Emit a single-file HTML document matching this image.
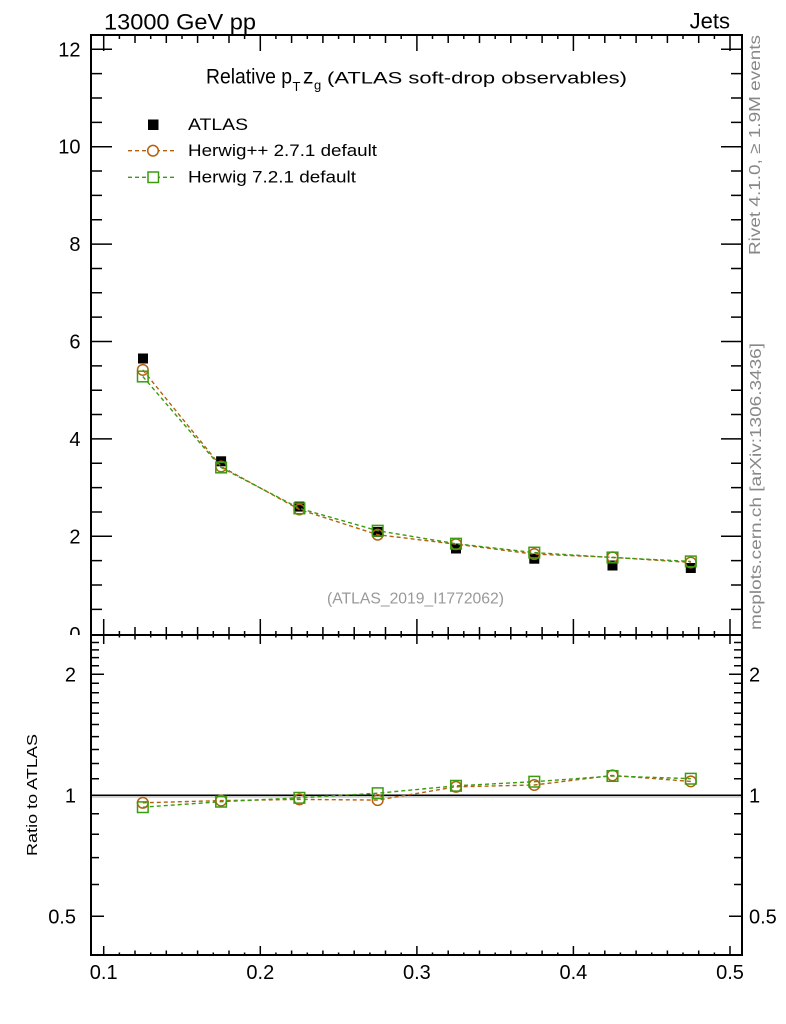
<!DOCTYPE html>
<html><head><meta charset="utf-8"><style>
html,body{margin:0;padding:0;background:#fff;}
svg{display:block;}
text{font-family:"Liberation Sans",Arial,sans-serif;}
</style></head><body>
<svg width="786" height="1024" viewBox="0 0 786 1024" xmlns="http://www.w3.org/2000/svg">
<rect x="0" y="0" width="786" height="1024" fill="#fff"/>
<defs>
<clipPath id="cm"><rect x="91" y="35" width="651" height="600"/></clipPath>
<clipPath id="cr"><rect x="91" y="635" width="651" height="320"/></clipPath>
<clipPath id="cl"><rect x="0" y="0" width="91" height="635"/></clipPath>
</defs>

<!-- header texts -->
<text x="104" y="29.3" font-size="22" textLength="152" lengthAdjust="spacingAndGlyphs">13000 GeV pp</text>
<text x="730" y="28.5" font-size="22" text-anchor="end">Jets</text>

<!-- right side grey texts -->
<text transform="translate(760,255) rotate(-90)" font-size="16" fill="#888" textLength="220" lengthAdjust="spacingAndGlyphs">Rivet 4.1.0, ≥ 1.9M events</text>
<text transform="translate(761,630) rotate(-90)" font-size="16" fill="#888" textLength="287" lengthAdjust="spacingAndGlyphs">mcplots.cern.ch [arXiv:1306.3436]</text>

<!-- title -->
<text x="206" y="83.5" font-size="21" textLength="86" lengthAdjust="spacingAndGlyphs">Relative p</text>
<text x="292.5" y="91" font-size="13">T</text>
<text x="303" y="83.5" font-size="21">z</text>
<text x="314" y="89.5" font-size="13">g</text>
<text x="327" y="83.3" font-size="17" textLength="300" lengthAdjust="spacingAndGlyphs">(ATLAS soft-drop observables)</text>

<!-- legend -->
<rect x="148" y="119.5" width="10.5" height="10.5" fill="#000"/>
<text x="188" y="130" font-size="17" textLength="60" lengthAdjust="spacingAndGlyphs">ATLAS</text>
<line x1="128" y1="150.7" x2="176" y2="150.7" stroke="#b5600f" stroke-width="1.4" stroke-dasharray="4,3"/>
<circle cx="153" cy="150.7" r="5.3" fill="#fff" stroke="#b5600f" stroke-width="1.5"/>
<text x="188" y="156" font-size="17" textLength="189" lengthAdjust="spacingAndGlyphs">Herwig++ 2.7.1 default</text>
<line x1="128" y1="177.3" x2="176" y2="177.3" stroke="#3a9b10" stroke-width="1.4" stroke-dasharray="4,3"/>
<rect x="148" y="172" width="10.5" height="10.5" fill="#fff" stroke="#3a9b10" stroke-width="1.5"/>
<text x="188" y="182.5" font-size="17" textLength="168" lengthAdjust="spacingAndGlyphs">Herwig 7.2.1 default</text>

<!-- analysis id -->
<text x="327" y="603.3" font-size="16" fill="#999" textLength="177" lengthAdjust="spacingAndGlyphs">(ATLAS_2019_I1772062)</text>

<!-- main y labels -->
<g font-size="20" text-anchor="end" clip-path="url(#cl)">
<text x="80.5" y="56.3">12</text>
<text x="80.5" y="153.7">10</text>
<text x="80.5" y="251.1">8</text>
<text x="80.5" y="348.5">6</text>
<text x="80.5" y="445.9">4</text>
<text x="80.5" y="543.3">2</text>
<text x="80.5" y="641">0</text>
</g>

<!-- ratio y labels -->
<g font-size="20">
<text x="76" y="681.3" text-anchor="end">2</text>
<text x="76" y="802.3" text-anchor="end">1</text>
<text x="76" y="923.3" text-anchor="end">0.5</text>
<text x="749" y="681.3">2</text>
<text x="749" y="802.3">1</text>
<text x="749" y="923.3">0.5</text>
</g>
<text transform="translate(37,795) rotate(-90)" font-size="15" text-anchor="middle" textLength="122" lengthAdjust="spacingAndGlyphs">Ratio to ATLAS</text>

<!-- x labels -->
<g font-size="20" text-anchor="middle">
<text x="103.7" y="979">0.1</text>
<text x="260.3" y="979">0.2</text>
<text x="416.9" y="979">0.3</text>
<text x="573.4" y="979">0.4</text>
<text x="730" y="979">0.5</text>
</g>

<!-- ticks -->
<g stroke="#000" stroke-width="1.5" fill="none">
<path d="M103.7 635v-16M260.3 635v-16M416.9 635v-16M573.4 635v-16M730 635v-16
M103.7 35v16M260.3 35v16M416.9 35v16M573.4 35v16M730 35v16"/>
<path d="M135 635v-8M166.3 635v-8M197.6 635v-8M229 635v-8M291.6 635v-8M322.9 635v-8M354.2 635v-8M385.5 635v-8M448.2 635v-8M479.5 635v-8M510.8 635v-8M542.1 635v-8M604.8 635v-8M636.1 635v-8M667.4 635v-8M698.7 635v-8
M135 35v8M166.3 35v8M197.6 35v8M229 35v8M291.6 35v8M322.9 35v8M354.2 35v8M385.5 35v8M448.2 35v8M479.5 35v8M510.8 35v8M542.1 35v8M604.8 35v8M636.1 35v8M667.4 35v8M698.7 35v8"/>
<path d="M119.4 635v-4M150.7 635v-4M182 635v-4M213.3 635v-4M244.6 635v-4M275.9 635v-4M307.3 635v-4M338.6 635v-4M369.9 635v-4M401.2 635v-4M432.5 635v-4M463.8 635v-4M495.2 635v-4M526.5 635v-4M557.8 635v-4M589.1 635v-4M620.4 635v-4M651.7 635v-4M683 635v-4M714.4 635v-4
M119.4 35v4M150.7 35v4M182 35v4M213.3 35v4M244.6 35v4M275.9 35v4M307.3 35v4M338.6 35v4M369.9 35v4M401.2 35v4M432.5 35v4M463.8 35v4M495.2 35v4M526.5 35v4M557.8 35v4M589.1 35v4M620.4 35v4M651.7 35v4M683 35v4M714.4 35v4"/>
<path d="M103.7 635v9M260.3 635v9M416.9 635v9M573.4 635v9M730 635v9
M103.7 955v-9M260.3 955v-9M416.9 955v-9M573.4 955v-9M730 955v-9"/>
<path d="M135 635v4.5M166.3 635v4.5M197.6 635v4.5M229 635v4.5M291.6 635v4.5M322.9 635v4.5M354.2 635v4.5M385.5 635v4.5M448.2 635v4.5M479.5 635v4.5M510.8 635v4.5M542.1 635v4.5M604.8 635v4.5M636.1 635v4.5M667.4 635v4.5M698.7 635v4.5
M135 955v-4.5M166.3 955v-4.5M197.6 955v-4.5M229 955v-4.5M291.6 955v-4.5M322.9 955v-4.5M354.2 955v-4.5M385.5 955v-4.5M448.2 955v-4.5M479.5 955v-4.5M510.8 955v-4.5M542.1 955v-4.5M604.8 955v-4.5M636.1 955v-4.5M667.4 955v-4.5M698.7 955v-4.5"/>
<path d="M119.4 635v2.5M150.7 635v2.5M182 635v2.5M213.3 635v2.5M244.6 635v2.5M275.9 635v2.5M307.3 635v2.5M338.6 635v2.5M369.9 635v2.5M401.2 635v2.5M432.5 635v2.5M463.8 635v2.5M495.2 635v2.5M526.5 635v2.5M557.8 635v2.5M589.1 635v2.5M620.4 635v2.5M651.7 635v2.5M683 635v2.5M714.4 635v2.5
M119.4 955v-2.5M150.7 955v-2.5M182 955v-2.5M213.3 955v-2.5M244.6 955v-2.5M275.9 955v-2.5M307.3 955v-2.5M338.6 955v-2.5M369.9 955v-2.5M401.2 955v-2.5M432.5 955v-2.5M463.8 955v-2.5M495.2 955v-2.5M526.5 955v-2.5M557.8 955v-2.5M589.1 955v-2.5M620.4 955v-2.5M651.7 955v-2.5M683 955v-2.5M714.4 955v-2.5"/>
<path d="M91 49.3h21M91 146.7h21M91 244.1h21M91 341.5h21M91 438.9h21M91 536.3h21
M742 49.3h-21M742 146.7h-21M742 244.1h-21M742 341.5h-21M742 438.9h-21M742 536.3h-21"/>
<path d="M91 73.65h11M91 98h11M91 122.35h11M91 171.05h11M91 195.4h11M91 219.75h11M91 268.45h11M91 292.8h11M91 317.15h11M91 365.85h11M91 390.2h11M91 414.55h11M91 463.25h11M91 487.6h11M91 511.95h11M91 560.65h11M91 585h11M91 609.35h11
M742 73.65h-11M742 98h-11M742 122.35h-11M742 171.05h-11M742 195.4h-11M742 219.75h-11M742 268.45h-11M742 292.8h-11M742 317.15h-11M742 365.85h-11M742 390.2h-11M742 414.55h-11M742 463.25h-11M742 487.6h-11M742 511.95h-11M742 560.65h-11M742 585h-11M742 609.35h-11"/>
<path d="M91 674.3h13M91 795.3h13M91 916.3h13M742 674.3h-13M742 795.3h-13M742 916.3h-13"/>
<path d="M91 642.5h8M91 649.9h8M91 657.6h8M91 665.8h8M91 683.2h8M91 692.7h8M91 702.7h8M91 713.2h8M91 724.5h8M91 736.6h8M91 749.5h8M91 763.5h8M91 778.7h8M91 813.7h8M91 834.3h8M91 857.6h8M91 884.5h8
M742 642.5h-8M742 649.9h-8M742 657.6h-8M742 665.8h-8M742 683.2h-8M742 692.7h-8M742 702.7h-8M742 713.2h-8M742 724.5h-8M742 736.6h-8M742 749.5h-8M742 763.5h-8M742 778.7h-8M742 813.7h-8M742 834.3h-8M742 857.6h-8M742 884.5h-8"/>
</g>

<!-- main data -->
<g clip-path="url(#cm)">
<rect x="138" y="353.5" width="10" height="10" fill="#000"/>
<rect x="216.1" y="456.3" width="10" height="10" fill="#000"/>
<rect x="294.4" y="501.6" width="10" height="10" fill="#000"/>
<rect x="372.7" y="526.9" width="10" height="10" fill="#000"/>
<rect x="451" y="543.5" width="10" height="10" fill="#000"/>
<rect x="529.3" y="553.7" width="10" height="10" fill="#000"/>
<rect x="607.5" y="560.5" width="10" height="10" fill="#000"/>
<rect x="685.8" y="563" width="10" height="10" fill="#000"/>

<polyline fill="none" stroke="#b5600f" stroke-width="1.4" stroke-dasharray="4,3"
 points="142.8,369.9 221.1,466.5 299.4,509.5 377.7,534.7 456,544.2 534.3,554.1 612.5,557.3 690.8,562.5"/>
<polyline fill="none" stroke="#3a9b10" stroke-width="1.4" stroke-dasharray="4,3"
 points="142.8,376.5 221.1,467.5 299.4,508.4 377.7,530.7 456,543.7 534.3,552.6 612.5,557.5 690.8,561.4"/>
<g fill="none" stroke="#b5600f" stroke-width="1.5">
<circle cx="142.8" cy="369.9" r="5.3"/>
<circle cx="221.1" cy="466.5" r="5.3"/>
<circle cx="299.4" cy="509.5" r="5.3"/>
<circle cx="377.7" cy="534.7" r="5.3"/>
<circle cx="456" cy="544.2" r="5.3"/>
<circle cx="534.3" cy="554.1" r="5.3"/>
<circle cx="612.5" cy="557.3" r="5.3"/>
<circle cx="690.8" cy="562.5" r="5.3"/>
</g>
<g fill="none" stroke="#3a9b10" stroke-width="1.5">
<rect x="137.5" y="371.2" width="10.6" height="10.6"/>
<rect x="215.8" y="462.2" width="10.6" height="10.6"/>
<rect x="294.1" y="503.1" width="10.6" height="10.6"/>
<rect x="372.4" y="525.4" width="10.6" height="10.6"/>
<rect x="450.7" y="538.4" width="10.6" height="10.6"/>
<rect x="529" y="547.3" width="10.6" height="10.6"/>
<rect x="607.2" y="552.2" width="10.6" height="10.6"/>
<rect x="685.5" y="556.1" width="10.6" height="10.6"/>
</g>
</g>

<!-- ratio data -->
<g clip-path="url(#cr)">
<rect x="91" y="795.3" width="651" height="2.5" fill="#ccc"/>
<line x1="91" y1="795.3" x2="742" y2="795.3" stroke="#000" stroke-width="1.5"/>
<polyline fill="none" stroke="#b5600f" stroke-width="1.4" stroke-dasharray="4,3"
 points="142.8,802.8 221.1,800.6 299.4,799.4 377.7,800.1 456,786.8 534.3,785 612.5,775.4 690.8,781.4"/>
<polyline fill="none" stroke="#3a9b10" stroke-width="1.4" stroke-dasharray="4,3"
 points="142.8,807.2 221.1,801.7 299.4,797.8 377.7,793.2 456,785.8 534.3,781.7 612.5,776 690.8,778.7"/>
<g fill="none" stroke="#b5600f" stroke-width="1.5">
<circle cx="142.8" cy="802.8" r="5.3"/>
<circle cx="221.1" cy="800.6" r="5.3"/>
<circle cx="299.4" cy="799.4" r="5.3"/>
<circle cx="377.7" cy="800.1" r="5.3"/>
<circle cx="456" cy="786.8" r="5.3"/>
<circle cx="534.3" cy="785" r="5.3"/>
<circle cx="612.5" cy="775.4" r="5.3"/>
<circle cx="690.8" cy="781.4" r="5.3"/>
</g>
<g fill="none" stroke="#3a9b10" stroke-width="1.5">
<rect x="137.5" y="801.9" width="10.6" height="10.6"/>
<rect x="215.8" y="796.4" width="10.6" height="10.6"/>
<rect x="294.1" y="792.5" width="10.6" height="10.6"/>
<rect x="372.4" y="787.9" width="10.6" height="10.6"/>
<rect x="450.7" y="780.5" width="10.6" height="10.6"/>
<rect x="529" y="776.4" width="10.6" height="10.6"/>
<rect x="607.2" y="770.7" width="10.6" height="10.6"/>
<rect x="685.5" y="773.4" width="10.6" height="10.6"/>
</g>
</g>

<!-- frames -->
<rect x="91" y="35" width="651" height="600" fill="none" stroke="#000" stroke-width="2"/>
<rect x="91" y="635" width="651" height="320" fill="none" stroke="#000" stroke-width="2"/>
</svg>
</body></html>
